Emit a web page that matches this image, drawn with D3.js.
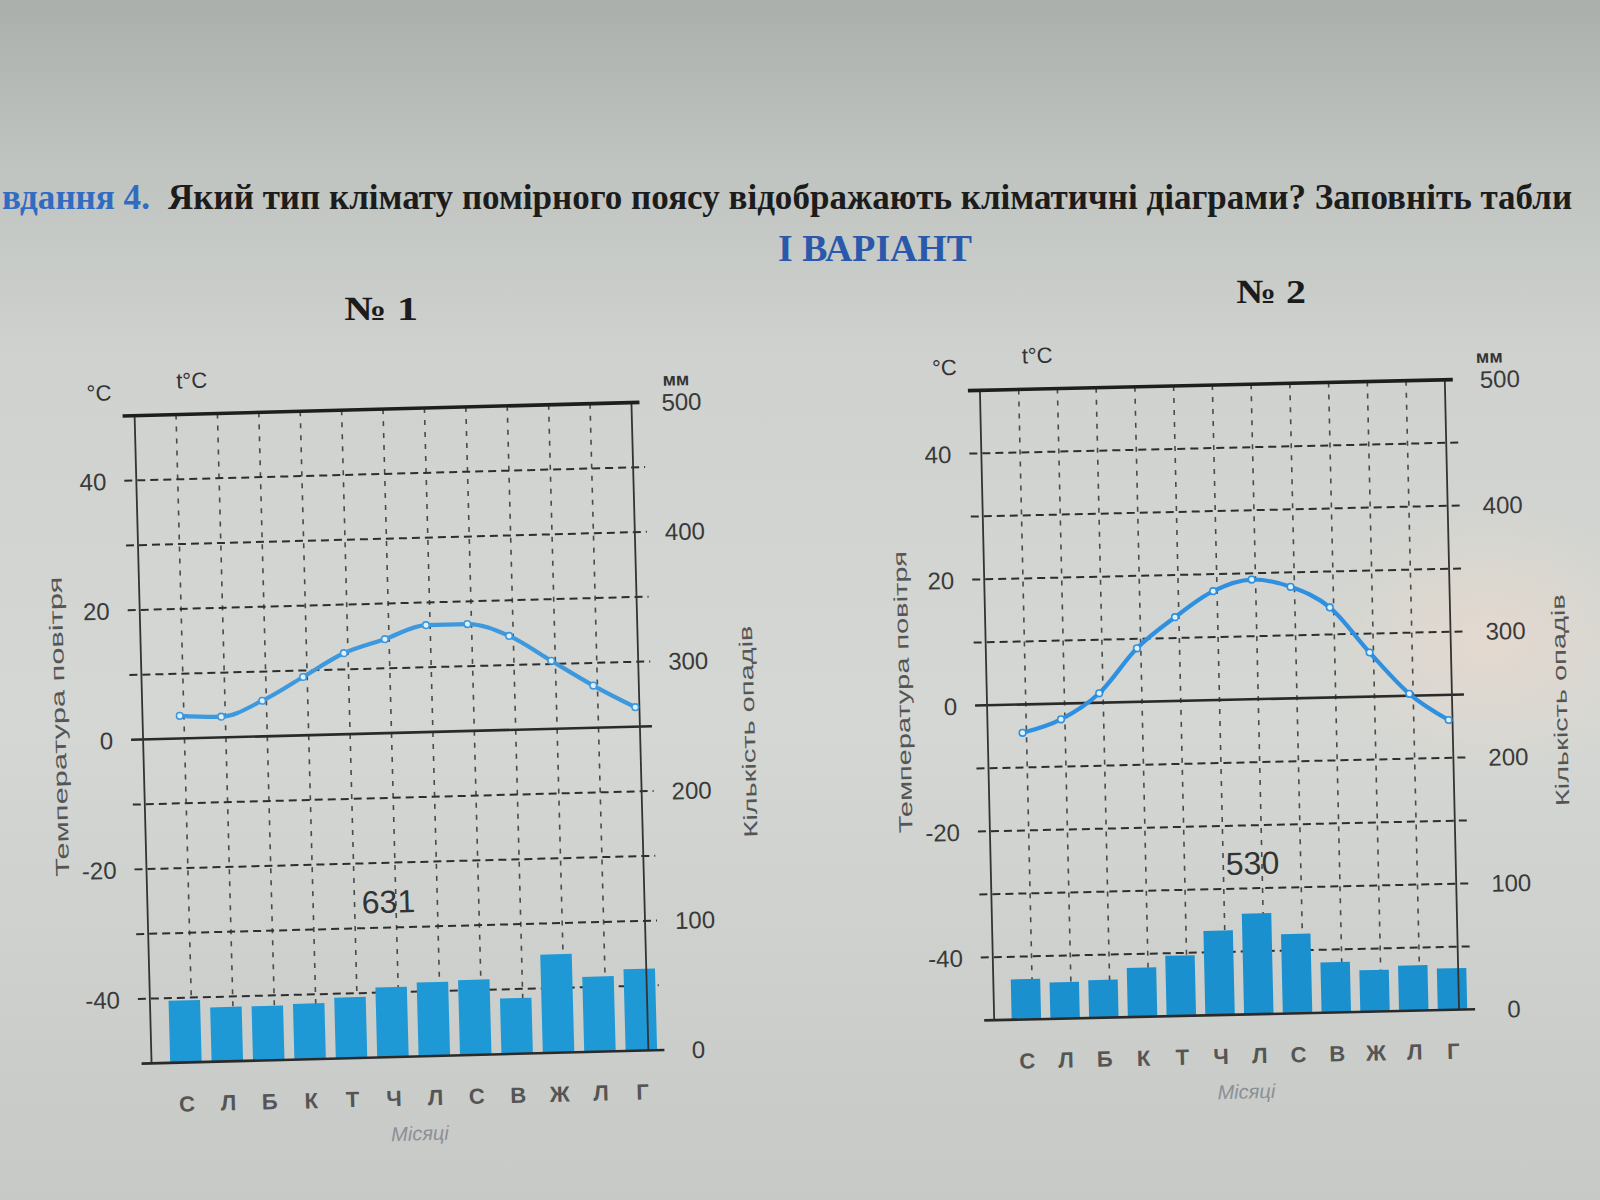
<!DOCTYPE html>
<html><head><meta charset="utf-8">
<script src="https://cdn.jsdelivr.net/npm/d3@7"></script>
<style>html,body{margin:0;padding:0;background:#cdd0cc;} svg{display:block;}</style>
</head><body>
<script>
// ---------- data ----------
const months = ["С","Л","Б","К","Т","Ч","Л","С","В","Ж","Л","Г"];
const temp1 = [3.5, 3.2, 5.5, 9, 12.5, 14.5, 16.5, 16.5, 14.5, 10.5, 6.5, 3];
const precip1 = [48, 42, 42, 43, 47, 54, 57, 58, 43, 76, 58, 63];
const total1 = "631";
const temp2 = [-4.5, -2.5, 1.5, 8.5, 13.3, 17.3, 19, 17.7, 14.3, 7, 0.3, -4];
const precip2 = [32, 29, 30, 39, 48, 67, 80, 63, 40, 33, 36, 33];
const total2 = "530";
const tempTicks = [40, 20, 0, -20, -40];
const precipTicks = [500, 400, 300, 200, 100, 0];
const gridTemps = [-40, -30, -20, -10, 10, 20, 30, 40];
const tempDomain = [-50, 50];
const precipDomain = [0, 500];
const headerPrefix = "вдання 4.";
const headerText = "Який тип клімату помірного поясу відображають кліматичні діаграми? Заповніть табли";
const variantText = "I ВАРІАНТ";
const chartTitles = ["№ 1", "№ 2"];
const tempAxisTitle = "Температура повітря";
const precipAxisTitle = "Кількість опадів";
const monthsTitle = "Місяці";
const unitTemp = "°C", unitTempT = "t°C", unitPrecip = "мм";

// ---------- layout ----------
const W = 1600, H = 1200;
const layouts = [
  {left:143, right:640, top:409, bottom:1057, rot:-1.5, titleX:381, titleY:320, titleLen:74,
   totalFx:0.485, tLen:300, pLen:212, rOff:50, barColor:"#1f98d6", lineColor:"#3d98de"},
  {left:987, right:1452, top:385, bottom:1015, rot:-1.3, titleX:1271, titleY:303, titleLen:70,
   totalFx:0.563, tLen:282, pLen:212, rOff:55, barColor:"#1b90cf", lineColor:"#2f90e0"}
];

const svg = d3.select("body").append("svg").attr("width", W).attr("height", H);
const defs = svg.append("defs");
const bg = defs.append("linearGradient").attr("id","bg").attr("x1",0).attr("y1",0).attr("x2",0).attr("y2",1);
[[0,"#abafac"],[0.13,"#bfc3bf"],[0.3,"#cfd2ce"],[0.6,"#d4d7d3"],[1,"#c6c9c5"]].forEach(([o,c])=>
  bg.append("stop").attr("offset",o).attr("stop-color",c));
const glare = defs.append("radialGradient").attr("id","glare");
glare.append("stop").attr("offset",0).attr("stop-color","#f3dccd").attr("stop-opacity",0.55);
glare.append("stop").attr("offset",1).attr("stop-color","#f3dccd").attr("stop-opacity",0);
svg.append("rect").attr("width",W).attr("height",H).attr("fill","url(#bg)");
svg.append("ellipse").attr("cx",1490).attr("cy",640).attr("rx",170).attr("ry",140).attr("fill","url(#glare)");

// fit a text horizontally to a target width by scaling (keeps real bounding box inside)
function fitText(sel, x, y, target, anchor) {
  sel.attr("x", 0).attr("y", 0).attr("text-anchor", anchor || "start");
  const natural = sel.node().getComputedTextLength();
  const sx = target / natural;
  sel.attr("transform", `translate(${x},${y}) scale(${sx},1)`);
  return sel;
}

// ---------- header ----------
fitText(svg.append("text").attr("font-family","Liberation Serif").attr("font-weight","bold")
  .attr("font-size",36).attr("fill","#2f6cc2").text(headerPrefix), 2, 209, 148);
fitText(svg.append("text").attr("font-family","Liberation Serif").attr("font-weight","bold")
  .attr("font-size",36).attr("fill","#1c1c1c").text(headerText), 168, 209, 1405);
fitText(svg.append("text").attr("font-family","Liberation Serif").attr("font-weight","bold")
  .attr("font-size",38).attr("fill","#2a58aa").text(variantText), 875, 261, 194, "middle");

function drawChart(temps, precs, total, L, title) {
  fitText(svg.append("text").attr("font-family","Liberation Serif").attr("font-weight","bold")
    .attr("font-size",34).attr("fill","#1c1c1c").text(title), L.titleX, L.titleY, L.titleLen, "middle");

  const cx = (L.left + L.right) / 2, cy = (L.top + L.bottom) / 2;
  const g = svg.append("g").attr("transform", `rotate(${L.rot},${cx},${cy})`);
  const x = d3.scaleBand().domain(d3.range(12)).range([L.left, L.right]);
  const w = x.bandwidth();
  const yT = d3.scaleLinear().domain(tempDomain).range([L.bottom, L.top]);
  const yP = d3.scaleLinear().domain(precipDomain).range([L.bottom, L.top]);
  const plain = d => String(d);

  // vertical dashed grid
  g.append("g").selectAll("line").data(d3.range(1,12)).join("line")
    .attr("x1", i => x(i)).attr("x2", i => x(i)).attr("y1", L.top).attr("y2", L.bottom)
    .attr("stroke","#4a4a4a").attr("stroke-width",1.6).attr("stroke-dasharray","5,7");
  // horizontal dashed grid
  g.append("g").selectAll("line").data(gridTemps).join("line")
    .attr("x1", L.left - 12).attr("x2", L.right + 12).attr("y1", d => yT(d)).attr("y2", d => yT(d))
    .attr("stroke","#2e2e2e").attr("stroke-width",2).attr("stroke-dasharray","8,5");

  // bars
  g.append("g").selectAll("rect").data(precs).join("rect")
    .attr("x", (d,i) => x(i) + 0.45*w).attr("width", 0.76*w)
    .attr("y", d => yP(d)).attr("height", d => yP(0) - yP(d))
    .attr("fill", L.barColor);

  // zero line and frame
  g.append("line").attr("x1",L.left-12).attr("x2",L.right+12).attr("y1",yT(0)).attr("y2",yT(0))
    .attr("stroke","#2a2a2a").attr("stroke-width",2.6);
  g.append("line").attr("x1",L.left).attr("x2",L.left).attr("y1",L.top).attr("y2",L.bottom)
    .attr("stroke","#333").attr("stroke-width",1.8);
  g.append("line").attr("x1",L.right).attr("x2",L.right).attr("y1",L.top).attr("y2",L.bottom)
    .attr("stroke","#333").attr("stroke-width",1.8);
  g.append("line").attr("x1",L.left-12).attr("x2",L.right+8).attr("y1",L.top).attr("y2",L.top)
    .attr("stroke","#1e1e1e").attr("stroke-width",3.6);
  g.append("line").attr("x1",L.left-10).attr("x2",L.right+16).attr("y1",yP(0)).attr("y2",yP(0))
    .attr("stroke","#2a2a2a").attr("stroke-width",2.6);

  // temperature line
  const line = d3.line().x((d,i) => x(i) + 0.9*w).y(d => yT(d)).curve(d3.curveMonotoneX);
  g.append("path").datum(temps).attr("d", line).attr("fill","none")
    .attr("stroke", L.lineColor).attr("stroke-width",4.2).attr("stroke-linejoin","round");
  g.append("g").selectAll("circle").data(temps).join("circle")
    .attr("cx", (d,i) => x(i) + 0.9*w).attr("cy", d => yT(d)).attr("r",3.3)
    .attr("fill","#dff0fb").attr("stroke",L.lineColor).attr("stroke-width",1.6);

  // left temperature axis
  const la = g.append("g").attr("transform", `translate(${L.left-30},0)`)
    .call(d3.axisLeft(yT).tickValues(tempTicks).tickSize(0).tickPadding(0).tickFormat(plain));
  la.select(".domain").remove();
  la.selectAll("text").attr("font-family","Liberation Sans").attr("font-size",24).attr("fill","#3a3a3a")
    .attr("text-anchor","end").attr("dy","0.35em");
  // right precipitation axis
  const ra = g.append("g").attr("transform", `translate(${L.right+L.rOff},0)`)
    .call(d3.axisRight(yP).tickValues(precipTicks).tickSize(0).tickPadding(0).tickFormat(plain));
  ra.select(".domain").remove();
  ra.selectAll("text").attr("font-family","Liberation Sans").attr("font-size",24).attr("fill","#3a3a3a")
    .attr("text-anchor","middle").attr("dy","0.35em").attr("x",0);

  // month labels
  g.append("g").selectAll("text").data(months).join("text")
    .attr("x", (d,i) => x(i) + 0.83*w).attr("y", L.bottom + 49).attr("text-anchor","middle")
    .attr("font-family","Liberation Sans").attr("font-weight","bold").attr("font-size",22)
    .attr("fill","#555").text(d => d);
  g.append("text").attr("x", cx + 18).attr("y", L.bottom + 84).attr("text-anchor","middle")
    .attr("font-family","Liberation Sans").attr("font-style","italic").attr("font-size",20)
    .attr("fill","#8b9096").text(monthsTitle);

  // unit labels
  g.append("text").attr("x", L.left - 35).attr("y", L.top - 16).attr("text-anchor","middle")
    .attr("font-family","Liberation Sans").attr("font-size",22).attr("fill","#333").text(unitTemp);
  g.append("text").attr("x", L.left + 58).attr("y", L.top - 26).attr("text-anchor","middle")
    .attr("font-family","Liberation Sans").attr("font-size",22).attr("fill","#333").text(unitTempT);
  g.append("text").attr("x", L.right + 45).attr("y", L.top - 16).attr("text-anchor","middle")
    .attr("font-family","Liberation Sans").attr("font-weight","bold").attr("font-size",18)
    .attr("fill","#333").text(unitPrecip);

  // axis titles
  g.append("text").attr("transform", `translate(${L.left-84},${cy-15}) rotate(-90)`)
    .attr("text-anchor","middle").attr("dy","0.35em").attr("textLength",L.tLen).attr("lengthAdjust","spacingAndGlyphs")
    .attr("font-family","Liberation Sans").attr("font-size",19).attr("fill","#555").text(tempAxisTitle);
  g.append("text").attr("transform", `translate(${L.right+108},${cy+8}) rotate(-90)`)
    .attr("text-anchor","middle").attr("dy","0.35em").attr("textLength",L.pLen).attr("lengthAdjust","spacingAndGlyphs")
    .attr("font-family","Liberation Sans").attr("font-size",19).attr("fill","#555").text(precipAxisTitle);

  // annual total
  g.append("text").attr("x", L.left + L.totalFx*(L.right-L.left)).attr("y", yT(-26)).attr("dy","0.35em")
    .attr("text-anchor","middle").attr("font-family","Liberation Sans").attr("font-size",32)
    .attr("fill","#333").text(total);
}

drawChart(temp1, precip1, total1, layouts[0], chartTitles[0]);
drawChart(temp2, precip2, total2, layouts[1], chartTitles[1]);
</script>
</body></html>
